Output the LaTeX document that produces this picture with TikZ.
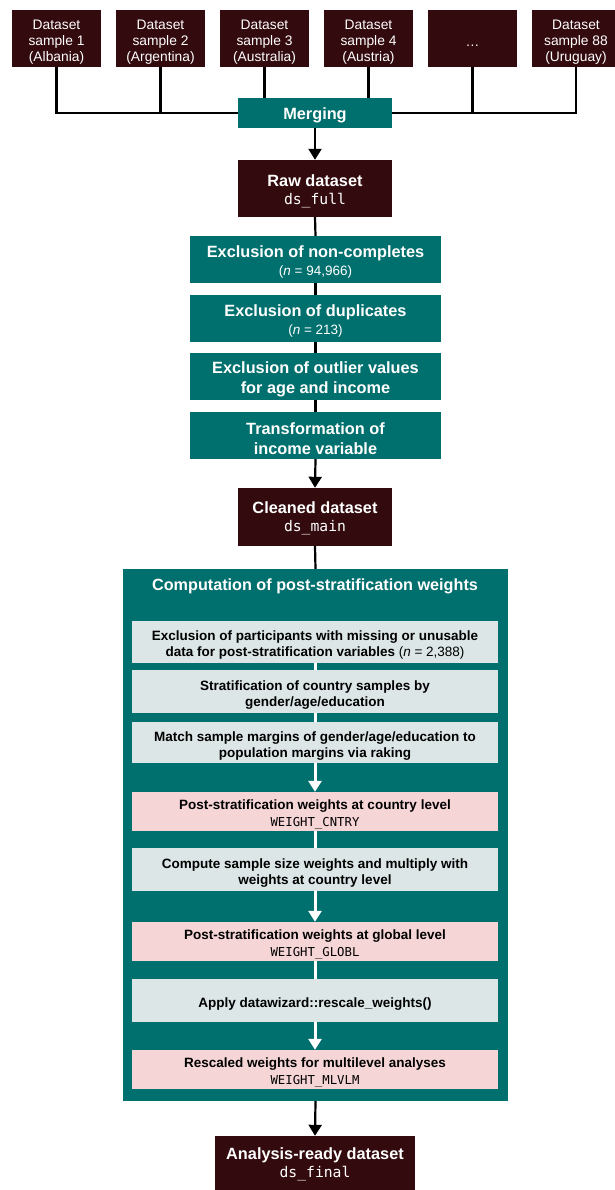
\documentclass[tikz,border=0pt]{standalone}
\usepackage{fontspec}
\setmainfont{Liberation Sans}
\setmonofont{DejaVu Sans Mono}
\usetikzlibrary{arrows.meta}
\definecolor{maroon}{HTML}{330A0D}
\definecolor{tealc}{HTML}{00706E}
\definecolor{pale}{HTML}{DCE6E6}
\definecolor{pinkbox}{HTML}{F6D5D6}
\tikzset{
  darkbox/.style={fill=maroon,text=white,inner sep=0pt,align=center},
  tealbox/.style={fill=tealc,text=white,inner sep=0pt,align=center},
  palebox/.style={fill=pale,text=black,inner sep=0pt,align=center},
  pinkb/.style={fill=pinkbox,text=black,inner sep=0pt,align=center},
  blk/.style={line width=2.2pt,draw=black},
  blkarrow/.style={blk,-{Triangle[width=13pt,length=11pt]}},
  wht/.style={line width=3pt,draw=white},
  whtarrow/.style={wht,-{Triangle[width=13pt,length=11pt]}},
  ds/.style={font=\fontsize{13.8}{16}\selectfont},
  bt/.style={font=\fontsize{16.3}{20}\selectfont\bfseries},
  bt18/.style={font=\fontsize{16.3}{18}\selectfont\bfseries},
  it/.style={font=\fontsize{13.5}{16}\selectfont\bfseries},
  pt/.style={font=\fontsize{13.5}{17}\selectfont\bfseries},
}
\newcommand{\lw}[1]{\rule{0pt}{#1}}
\newcommand{\smalln}{\mdseries\fontsize{13.5}{16}\selectfont}
\newcommand{\monof}[1]{{\mdseries\fontsize{12.3}{15}\selectfont\ttfamily #1}}
\newcommand{\monob}[1]{{\mdseries\fontsize{14.7}{17}\selectfont\ttfamily #1}}
\begin{document}
\begin{tikzpicture}[x=1pt,y=-1pt]
\useasboundingbox (0,0) rectangle (615,1190);
% top sample boxes
\foreach \n/\cx/\t in {s1/56.5/{Dataset\\sample 1\\(Albania)},
                     s2/160.5/{Dataset\\sample 2\\(Argentina)},
                     s3/264.5/{Dataset\\sample 3\\(Australia)},
                     s4/368.5/{Dataset\\sample 4\\(Austria)},
                     s5/472.5/{\dots},
                     s6/576/{Dataset\\sample 88\\(Uruguay)}}{
  \node[darkbox,ds,minimum width=89pt,minimum height=57pt] (\n) at (\cx,38.5) {\lw{16pt}\t};
}
\node[tealbox,bt,minimum width=154pt,minimum height=30pt] (merge) at (315,113) {\lw{16pt}Merging};
\coordinate (h1) at (s1.south |- merge.west);
\coordinate (h2) at (s2.south |- merge.west);
\coordinate (h5) at (s5.south |- merge.east);
\coordinate (h6) at (s6.south |- merge.east);
\draw[blk] (s1.south) -- (h1) -- (merge.west);
\draw[blk] (s2.south) -- (h2);
\draw[blk] (s6.south) -- (h6) -- (merge.east);
\draw[blk] (s5.south) -- (h5);
\draw[blk] (s3.south) -- (s3.south |- merge.north);
\draw[blk] (s4.south) -- (s4.south |- merge.north);
% raw dataset
\node[darkbox,bt18,minimum width=154pt,minimum height=57pt] (raw) at (315,188.5)
  {\lw{17.5pt}Raw dataset\\\monob{ds\_full}};
\draw[blkarrow] (merge.south) -- (raw.north);
% exclusion boxes
\node[tealbox,bt18,minimum width=251pt,minimum height=47pt] (ex1) at (315.5,259.5)
  {\lw{17.5pt}Exclusion of non-completes\\{\smalln(\textit{n} = 94,966)}};
\node[tealbox,bt18,minimum width=251pt,minimum height=47pt] (ex2) at (315.5,318.5)
  {\lw{17.5pt}Exclusion of duplicates\\{\smalln(\textit{n} = 213)}};
\node[tealbox,bt,minimum width=251pt,minimum height=47pt] (ex3) at (315.5,376.5)
  {\lw{17.5pt}Exclusion of outlier values\\for age and income};
\node[tealbox,bt,minimum width=251pt,minimum height=47pt] (ex4) at (315.5,435.5)
  {\lw{17.5pt}Transformation of\\income variable};
\draw[blk] (raw.south) -- (ex1.north);
\draw[blk] (ex1.south) -- (ex2.north);
\draw[blk] (ex2.south) -- (ex3.north);
\draw[blk] (ex3.south) -- (ex4.north);
% cleaned dataset
\node[darkbox,bt18,minimum width=154pt,minimum height=58pt] (clean) at (315,517)
  {\lw{15pt}Cleaned dataset\\\monob{ds\_main}};
\draw[blkarrow] (ex4.south) -- (clean.north);
% container
\node[fill=tealc,minimum width=385pt,minimum height=532pt,inner sep=0pt] (cont) at (315.5,835) {};
\node[text=white,font=\fontsize{16.2}{19}\selectfont\bfseries,anchor=center] (ctitle) at (315,586) {Computation of post-stratification weights};
\draw[blk] (clean.south) -- (cont.north);
% inner boxes
\node[palebox,it,minimum width=366pt,minimum height=42pt] (i1) at (315,642)
  {\lw{16pt}Exclusion of participants with missing or unusable\\data for post-stratification variables {\smalln(\textit{n} = 2,388)}};
\node[palebox,it,minimum width=366pt,minimum height=43pt] (i2) at (315,691.5)
  {\lw{16pt}Stratification of country samples by\\gender/age/education};
\node[palebox,it,minimum width=366pt,minimum height=41pt] (i3) at (315,742.5)
  {\lw{16pt}Match sample margins of gender/age/education to\\population margins via raking};
\node[pinkb,pt,minimum width=366pt,minimum height=39pt] (p1) at (315,811.5)
  {\lw{16pt}Post-stratification weights at country level\\\monof{WEIGHT\_CNTRY}};
\node[palebox,it,minimum width=366pt,minimum height=43pt] (i4) at (315,869.5)
  {\lw{16pt}Compute sample size weights and multiply with\\weights at country level};
\node[pinkb,pt,minimum width=366pt,minimum height=39pt] (p2) at (315,941.5)
  {\lw{16pt}Post-stratification weights at global level\\\monof{WEIGHT\_GLOBL}};
\node[palebox,it,minimum width=366pt,minimum height=43pt] (i5) at (315,1000.5)
  {\lw{16pt}Apply datawizard::rescale\_weights()};
\node[pinkb,pt,minimum width=366pt,minimum height=39pt] (p3) at (315,1069.5)
  {\lw{16pt}Rescaled weights for multilevel analyses\\\monof{WEIGHT\_MLVLM}};
\draw[wht] (i1.south) -- (i2.north);
\draw[wht] (i2.south) -- (i3.north);
\draw[whtarrow] (i3.south) -- (p1.north);
\draw[wht] (p1.south) -- (i4.north);
\draw[whtarrow] (i4.south) -- (p2.north);
\draw[wht] (p2.south) -- (i5.north);
\draw[whtarrow] (i5.south) -- (p3.north);
% final
\node[darkbox,bt18,minimum width=200pt,minimum height=54pt] (final) at (315,1163)
  {\lw{15pt}Analysis-ready dataset\\\monob{ds\_final}};
\draw[blkarrow] (cont.south) -- (final.north);
\end{tikzpicture}
\end{document}
